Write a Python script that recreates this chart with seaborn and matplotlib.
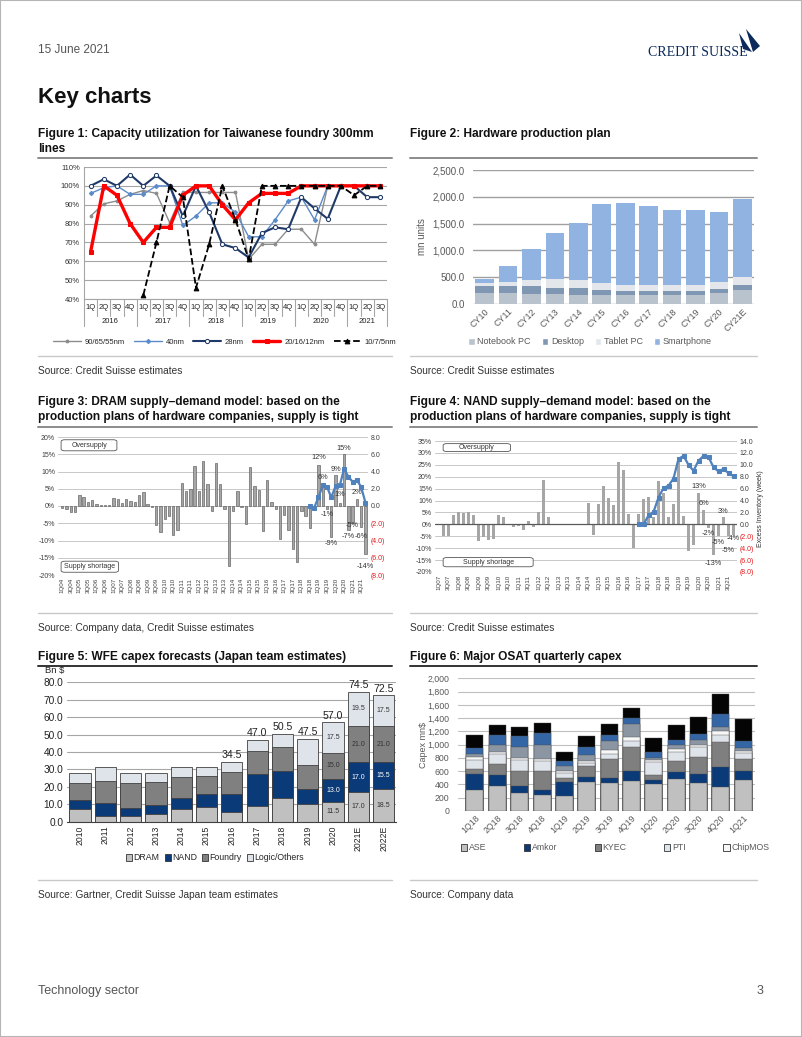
import numpy as np
import matplotlib
matplotlib.use("Agg")
import matplotlib.pyplot as plt
from matplotlib.lines import Line2D
from matplotlib.patches import Patch, FancyBboxPatch, Polygon, Rectangle
from matplotlib.ticker import FuncFormatter, MultipleLocator
import seaborn as sns

# ---------------- data ----------------
# Figure 1: capacity utilization (%)
f1_quarters = ['1Q', '2Q', '3Q', '4Q'] * 5 + ['1Q', '2Q', '3Q']
f1_years = ['2016', '2017', '2018', '2019', '2020', '2021']
f1_names = ['90/65/55nm', '40nm', '28nm', '20/16/12nm', '10/7/5nm']
util_90nm = [84, 90.5, 92, 95.5, 97.5, 96, 80.5, 96.5, 96.5, 96.5, 96.5, 96.5,
             61, 69, 69, 77, 77, 69, 100, 100, 100, 100, 100]
util_40nm = [96, 99, 100, 95.5, 95.5, 100, 100, 79, 84, 91, 91, 86,
             73, 73, 82, 92, 94, 82, 100, 100, 100, 100, 100]
util_28nm = [100, 103.5, 100, 106, 100, 105.5, 100, 84, 100, 86, 69, 67,
             62, 75, 78, 77, 94, 88, 82.5, 100, 100, 94, 94]
util_16nm = [65, 100, 95, 80, 70, 78, 78, 95, 100, 100, 90, 82,
             91, 96, 96, 96, 100, 100, 100, 100, 100, 100, 100]
util_7nm = [np.nan, np.nan, np.nan, np.nan, 42, 70, 100, 94, 46, 69, 100, 82,
            61, 100, 100, 100, 100, 100, 100, 100, 95, 100, 100]

# Figure 2: hardware production plan (mn units)
hw_years = ['CY10', 'CY11', 'CY12', 'CY13', 'CY14', 'CY15', 'CY16', 'CY17',
            'CY18', 'CY19', 'CY20', 'CY21E']
hw_names = ['Notebook PC', 'Desktop', 'Tablet PC', 'Smartphone']
notebook = [200, 200, 195, 180, 175, 165, 160, 160, 160, 160, 200, 270]
desktop = [145, 145, 135, 125, 125, 95, 85, 90, 85, 85, 75, 80]
tablet = [45, 70, 110, 155, 140, 125, 110, 110, 110, 110, 135, 160]
smartphone = [85, 300, 590, 860, 1080, 1475, 1525, 1460, 1395, 1400, 1310, 1440]

# Figure 3: DRAM supply-demand (%), inventory (weeks)
dram_quarters = [f'{q}Q{y:02d}' for y in range(4, 22) for q in range(1, 5)]
dram_balance = [-0.5, -1.0, -1.7, -1.7, 3.2, 2.7, 1.2, 1.7, 0.5, 0.3,
                0.3, 0.3, 2.4, 2.0, 0.8, 2.0, 1.5, 1.2, 3.2, 4.0,
                0.7, -0.3, -5.5, -7.5, -3.8, -2.8, -8.3, -7.0, 6.8, 4.3,
                5.0, 11.5, 4.3, 13.0, 6.5, -1.5, 12.5, 6.3, -0.8, -17.5,
                -1.5, 4.3, -0.3, -5.2, 11.2, 5.8, 4.5, -7.2, 7.6, 1.2,
                -1.0, -9.5, -2.6, -7.0, -12.5, -16.3, -1.5, -2.8, -6.5, -0.3,
                12, 6, -1, -9, 9, 1, 15, -7, -5, 2, -6, -14]
dram_inventory = [np.nan] * 58 + [0.0, -0.2, 1.0, 2.4, 2.2, 1.0, 2.3, 2.4,
                                  4.3, 3.4, 2.8, 3.0, 2.2, 0.4]
dram_label_idx = list(range(60, 72))
dram_label_y = [14.2, 8.2, -2.6, -10.8, 10.5, 3.4, 16.6, -8.8, -5.6, 4.0, -8.8, -17.4]

# Figure 4: NAND supply-demand (%), inventory (weeks)
nand_quarters = [f'{q}Q{y:02d}' for y in range(7, 22) for q in range(1, 5)]
nand_balance = [0, -5, -5, 4.0, 5.0, 4.8, 5.2, 4.0, -7.0, -5.5,
                -6.5, -6.0, 3.8, 3.0, 0, -1.0, -0.8, -2.3, 1.3, -1.0,
                5.0, 18.5, 3.3, 0, 0, 0, 0, 0, 0, 0,
                9.0, -4.5, 8.7, 16.2, 11.2, 8.2, 26.0, 23.0, 4.2, -10.0,
                4.5, 10.5, 11.5, 3.0, 18.0, 13.2, 3.2, 8.5, 28.0, 3.5,
                -11.0, -8.5, 13.0, 6.0, -1.5, -13.0, -5.0, 3.0, -5.0, -4.5]
nand_inventory = [np.nan] * 40 + [0.0, 0.0, 1.5, 2.1, 4.5, 6.1, 6.5, 7.7, 11.0, 11.5,
                                  10.0, 9.0, 10.7, 11.5, 11.3, 9.6, 8.9, 9.3, 8.6, 8.1]
nand_label_idx = list(range(52, 60))
nand_label_y = [15.8, 8.7, -4.0, -16.3, -7.5, 5.6, -11.0, -6.0]

# Figure 5: WFE capex (Bn $)
wfe_years = ['2010', '2011', '2012', '2013', '2014', '2015', '2016', '2017',
             '2018', '2019', '2020', '2021E', '2022E']
wfe_names = ['DRAM', 'NAND', 'Foundry', 'Logic/Others']
wfe_dram = [7.5, 3.5, 3.0, 4.2, 7.3, 8.4, 5.4, 9.0, 13.8, 10.3, 11.5, 17.0, 18.5]
wfe_nand = [5.2, 7.5, 4.8, 5.4, 6.5, 7.3, 10.5, 18.2, 15.1, 8.6, 13.0, 17.0, 15.5]
wfe_foundry = [9.4, 12.3, 14.3, 13.2, 11.8, 10.5, 12.8, 13.3, 13.8, 13.6, 15.0, 21.0, 21.0]
wfe_logic = [5.7, 8.0, 6.1, 5.3, 6.0, 5.2, 5.8, 6.5, 7.8, 15.0, 17.5, 19.5, 17.5]

# Figure 6: OSAT quarterly capex (mn$)
osat_quarters = ['1Q18', '2Q18', '3Q18', '4Q18', '1Q19', '2Q19', '3Q19', '4Q19',
                 '1Q20', '2Q20', '3Q20', '4Q20', '1Q21']
osat_names = ['ASE', 'Amkor', 'KYEC', 'PTI', 'ChipMOS']
osat_ase = [322, 372, 276, 241, 231, 437, 427, 452, 402, 482, 417, 367, 462]
osat_amkor = [231, 171, 101, 81, 211, 81, 65, 151, 65, 101, 146, 291, 141]
osat_kyec = [75, 160, 226, 281, 60, 165, 292, 367, 76, 166, 256, 387, 181]
osat_pti = [140, 150, 160, 145, 75, 40, 80, 90, 190, 140, 140, 105, 96]
osat_chipmos = [40, 30, 40, 40, 25, 25, 50, 60, 35, 50, 30, 50, 30]
osat_other_a = [47, 112, 162, 207, 81, 97, 146, 186, 26, 56, 81, 71, 35]
osat_other_b = [90, 151, 165, 186, 71, 125, 86, 91, 90, 75, 86, 186, 110]
osat_other_c = [205, 144, 135, 144, 141, 155, 159, 153, 221, 220, 254, 313, 335]

# ---------------- page ----------------
sns.set_style('white')
SANS = ['Liberation Sans', 'DejaVu Sans']
plt.rcParams['font.family'] = SANS

W, H = 802, 1037
fig = plt.figure(figsize=(W / 100, H / 100), dpi=100)


def add_ax(l, t, r, b):
    return fig.add_axes([l / W, 1 - b / H, (r - l) / W, (b - t) / H])


def ftext(x, y, s, **kw):
    kw.setdefault('va', 'center')
    fig.text(x / W, 1 - y / H, s, **kw)


def hline(x0, x1, y, color='#999999', lw=1.2):
    fig.add_artist(Line2D([x0 / W, x1 / W], [1 - y / H, 1 - y / H],
                          transform=fig.transFigure, color=color, lw=lw))


def stacked_bars(ax, cats, layers, colors, width, edge, lw):
    tops = np.cumsum(np.array(layers, dtype=float), axis=0)
    for k in range(len(layers) - 1, -1, -1):
        sns.barplot(x=cats, y=tops[k], color=colors[k], width=width, edgecolor=edge,
                    linewidth=lw, saturation=1, errorbar=None, ax=ax)
    return tops


def paren_fmt(v, _):
    return f'{v:.1f}' if v >= 0 else f'({-v:.1f})'


fig.patches.append(Rectangle((0, 0), 1, 1, transform=fig.transFigure, fill=False,
                             ec='#b5b5b5', lw=1.5))

ftext(38, 50, '15 June 2021', fontsize=8.5, color='#555555')
ftext(698, 52, 'CREDIT SUISSE', fontsize=10, color='#0b2a5b', family='Liberation Serif',
      ha='center')
for pts in ([(739, 33), (752, 52), (743, 49)], [(746, 29), (760, 46), (753, 52)]):
    fig.patches.append(Polygon([(x / W, 1 - y / H) for x, y in pts], closed=True,
                               transform=fig.transFigure, fc='#0b2a5b', ec='none'))
ftext(38, 98, 'Key charts', fontsize=16, fontweight='bold', color='#111111')

title_kw = dict(fontsize=8.6, fontweight='bold', color='#111111')
ftext(38, 134, 'Figure 1: Capacity utilization for Taiwanese foundry 300mm', **title_kw)
ftext(38, 149, 'lines', **title_kw)
ftext(410, 134, 'Figure 2: Hardware production plan', **title_kw)
ftext(38, 402, 'Figure 3: DRAM supply\u2013demand model: based on the', **title_kw)
ftext(38, 417, 'production plans of hardware companies, supply is tight', **title_kw)
ftext(410, 402, 'Figure 4: NAND supply\u2013demand model: based on the', **title_kw)
ftext(410, 417, 'production plans of hardware companies, supply is tight', **title_kw)
ftext(38, 657, 'Figure 5: WFE capex forecasts (Japan team estimates)', **title_kw)
ftext(410, 657, 'Figure 6: Major OSAT quarterly capex', **title_kw)

for y, c in ((158, '#8c8c8c'), (427, '#8c8c8c'), (666, '#333333')):
    hline(38, 392, y, color=c, lw=1.4)
    hline(410, 757, y, color=c, lw=1.4)
for y in (356, 613, 880):
    hline(38, 392, y, color='#c8c8c8', lw=1.0)
    hline(410, 757, y, color='#c8c8c8', lw=1.0)

src_kw = dict(fontsize=7.3, color='#333333')
ftext(38, 371, 'Source: Credit Suisse estimates', **src_kw)
ftext(410, 371, 'Source: Credit Suisse estimates', **src_kw)
ftext(38, 628, 'Source: Company data, Credit Suisse estimates', **src_kw)
ftext(410, 628, 'Source: Credit Suisse estimates', **src_kw)
ftext(38, 895, 'Source: Gartner, Credit Suisse Japan team estimates', **src_kw)
ftext(410, 895, 'Source: Company data', **src_kw)
ftext(38, 991, 'Technology sector', fontsize=9, color='#555555')
ftext(763, 991, '3', fontsize=9, color='#555555', ha='right')

# ---------------- Figure 1 ----------------
ax1 = add_ax(84, 167, 387, 299)
x1 = np.arange(len(f1_quarters))
f1_styles = [
    dict(color='#8c8c8c', lw=1.0, marker='o', ms=2.0, mfc='#8c8c8c', mec='#8c8c8c'),
    dict(color='#5b8bc9', lw=1.0, marker='D', ms=2.2, mfc='#5b8bc9', mec='#5b8bc9'),
    dict(color='#1f3a68', lw=1.5, marker='o', ms=3.0, mfc='white', mec='#1f3a68'),
    dict(color='#ff0000', lw=2.4, marker='s', ms=3.4, mfc='#ff0000', mec='#ff0000'),
    dict(color='black', lw=1.3, ls='--', marker='^', ms=3.4, mfc='black', mec='black'),
]
for name, vals, st in zip(f1_names, [util_90nm, util_40nm, util_28nm, util_16nm, util_7nm],
                          f1_styles):
    sns.lineplot(x=x1, y=vals, ax=ax1, label=name, **st)
ax1.set_xlim(-0.5, len(f1_quarters) - 0.5)
ax1.set_ylim(40, 110)
ax1.yaxis.set_major_locator(MultipleLocator(10))
ax1.yaxis.set_major_formatter(FuncFormatter(lambda v, _: f'{v:.0f}%'))
ax1.set_xticks([])
ax1.set_xlabel('')
ax1.set_ylabel('')
ax1.grid(axis='y', color='#a6a6a6', lw=0.8)
ax1.set_axisbelow(True)
for s in ('top', 'right'):
    ax1.spines[s].set_visible(False)
for s in ('left', 'bottom'):
    ax1.spines[s].set_color('#a6a6a6')
    ax1.spines[s].set_linewidth(0.8)
ax1.tick_params(axis='y', length=0, labelsize=5.5, pad=3, labelcolor='#333333')
xt = ax1.get_xaxis_transform()
for i, q in enumerate(f1_quarters):
    ax1.text(i, -0.068, q, transform=xt, ha='center', va='center', fontsize=5.5, color='#222222')
for b in range(len(f1_quarters) + 1):
    low = -0.205 if (b % 4 == 0 or b == len(f1_quarters)) else -0.13
    ax1.plot([b - 0.5, b - 0.5], [0, low], transform=xt, color='#a6a6a6', lw=0.8, clip_on=False)
for k, yr in enumerate(f1_years):
    start, end = 4 * k, min(4 * k + 4, len(f1_quarters))
    ax1.text((start + end - 1) / 2, -0.172, yr, transform=xt, ha='center', va='center',
             fontsize=5.5, color='#222222')
h1, l1 = ax1.get_legend_handles_labels()
ax1.legend(h1, l1, loc='center', bbox_to_anchor=(225 / W, 1 - 342 / H),
           bbox_transform=fig.transFigure, ncol=5, frameon=False, fontsize=5.5,
           handlelength=3.6, columnspacing=1.2, handletextpad=0.5)

# ---------------- Figure 2 ----------------
ax2 = add_ax(473, 170, 754, 304)
hw_colors = ['#b9c3ce', '#8097b3', '#e3e7ec', '#91b3e2']
stacked_bars(ax2, hw_years, [notebook, desktop, tablet, smartphone], hw_colors,
             width=0.8, edge='none', lw=0)
ax2.set_ylim(0, 2500)
ax2.yaxis.set_major_locator(MultipleLocator(500))
ax2.yaxis.set_major_formatter(FuncFormatter(lambda v, _: f'{v:,.1f}'))
ax2.grid(axis='y', color='#a0a0a0', lw=1.0)
ax2.set_axisbelow(True)
sns.despine(ax=ax2, left=True, bottom=True)
ax2.tick_params(axis='y', length=0, labelsize=7, pad=6, labelcolor='#595959')
ax2.tick_params(axis='x', length=0, labelsize=6.5, pad=2, labelcolor='#595959')
plt.setp(ax2.get_xticklabels(), rotation=45, ha='right', rotation_mode='anchor')
ax2.set_xlabel('')
ax2.set_ylabel('mn units', fontsize=7, color='#595959', labelpad=4)
ax2.legend([Patch(fc=c) for c in hw_colors], hw_names, loc='center',
           bbox_to_anchor=(590 / W, 1 - 342 / H), bbox_transform=fig.transFigure,
           ncol=4, frameon=False, fontsize=6.5, handlelength=0.7, handleheight=0.7,
           handletextpad=0.3, columnspacing=1.2, labelcolor='#595959')


# ---------------- Figure 3 & 4 ----------------
def balance_chart(ax, quarters, balance, inventory, ylim_left, ylim_right, xlim, bar_kw,
                  label_idx, label_y, boxes, zero_line):
    sns.barplot(x=quarters, y=balance, saturation=1, errorbar=None, ax=ax, **bar_kw)
    ax.set_ylim(*ylim_left)
    ax.yaxis.set_major_locator(MultipleLocator(5))
    ax.yaxis.set_major_formatter(FuncFormatter(lambda v, _: f'{v:.0f}%'))
    ax.grid(axis='y', color='#c8c8c8', lw=0.7)
    ax.set_axisbelow(True)
    if zero_line:
        ax.axhline(0, color='#595959', lw=0.9, zorder=1.5)
    ax.set_xticks(range(0, len(quarters), 2))
    ax.set_xticklabels(quarters[::2], rotation=90, fontsize=4.5, color='#404040')
    ax.tick_params(axis='x', length=0, pad=2)
    ax.tick_params(axis='y', length=0, labelsize=5, pad=2, labelcolor='#404040')
    ax.set_xlabel('')
    ax.set_ylabel('')
    sns.despine(ax=ax, left=True, bottom=True)
    for i, y in zip(label_idx, label_y):
        ax.text(i, y, f'{balance[i]:.0f}%', ha='center', va='center', fontsize=5.3,
                color='#333333', zorder=5)
    for (bx0, by0, bx1, by1, txt) in boxes:
        ax.add_patch(FancyBboxPatch((bx0, by0), bx1 - bx0, by1 - by0,
                                    boxstyle='round,pad=0,rounding_size=0.012',
                                    transform=ax.transAxes, fc='white', ec='#555555',
                                    lw=0.6, zorder=4))
        ax.text((bx0 + bx1) / 2, (by0 + by1) / 2, txt, transform=ax.transAxes,
                ha='center', va='center', fontsize=5, color='#333333', zorder=5)
    axr = ax.twinx()
    sns.lineplot(x=np.arange(len(quarters)), y=inventory, ax=axr, color='#4f81bd', lw=1.6,
                 marker='s', ms=2.4, mfc='#4f81bd', mec='#4f81bd')
    axr.set_ylim(*ylim_right)
    axr.set_yticks(np.arange(ylim_right[0], ylim_right[1] + 1, 2))
    axr.yaxis.set_major_formatter(FuncFormatter(paren_fmt))
    axr.tick_params(axis='y', length=0, labelsize=5, pad=2)
    for t, v in zip(axr.get_yticklabels(), axr.get_yticks()):
        t.set_color('#e31a1c' if v < 0 else '#404040')
    axr.set_ylabel('')
    sns.despine(ax=axr, left=True, bottom=True, right=True)
    ax.set_xlim(*xlim)
    axr.set_xlim(*xlim)
    return axr


ax3 = add_ax(58, 437, 368, 575)
balance_chart(ax3, dram_quarters, dram_balance, dram_inventory, (-20, 20), (-8, 8), (-1.0, 71.6),
              dict(color='#a6a6a6', edgecolor='#4d4d4d', linewidth=0.4, width=0.55),
              dram_label_idx, dram_label_y,
              [(0.01, 0.90, 0.19, 0.98, 'Oversupply'), (0.01, 0.02, 0.195, 0.10, 'Supply shortage')],
              zero_line=False)

ax4 = add_ax(435, 441, 737, 572)
ax4r = balance_chart(ax4, nand_quarters, nand_balance, nand_inventory, (-20, 35), (-8, 14),
                     (-0.7, 59.7), dict(color='#a6a6a6', edgecolor='none', width=0.45),
                     nand_label_idx, nand_label_y,
                     [(0.027, 0.92, 0.25, 0.98, 'Oversupply'),
                      (0.027, 0.04, 0.325, 0.11, 'Supply shortage')],
                     zero_line=True)
ftext(761, 509, 'Excess Inventory (week)', fontsize=5, rotation=90, ha='center', color='#333333')

# ---------------- Figure 5 ----------------
ax5 = add_ax(67.4, 682.3, 396.3, 821.7)
wfe_colors = ['#c0c0c0', '#0b3a78', '#808080', '#dfe4ea']
wfe_layers = [wfe_dram, wfe_nand, wfe_foundry, wfe_logic]
tops5 = stacked_bars(ax5, wfe_years, wfe_layers, wfe_colors, width=0.84, edge='#404040', lw=0.6)
ax5.set_ylim(0, 80)
ax5.yaxis.set_major_locator(MultipleLocator(10))
ax5.yaxis.set_major_formatter(FuncFormatter(lambda v, _: f'{v:.1f}'))
ax5.grid(axis='y', color='#a6a6a6', lw=0.8)
ax5.set_axisbelow(True)
sns.despine(ax=ax5, left=True)
ax5.spines['bottom'].set_color('#404040')
ax5.tick_params(axis='y', length=0, labelsize=7.3, pad=3, labelcolor='#222222')
ax5.tick_params(axis='x', length=0, labelsize=6.2, pad=3, labelcolor='#222222')
plt.setp(ax5.get_xticklabels(), rotation=90)
ax5.set_xlabel('')
ax5.set_ylabel('')
for i in range(6, len(wfe_years)):
    ax5.text(i, tops5[-1][i] + 1.0, f'{tops5[-1][i]:.1f}', ha='center', va='bottom',
             fontsize=7.6, color='#222222')
for i in range(10, len(wfe_years)):
    for k, layer in enumerate(wfe_layers):
        base = tops5[k][i] - layer[i]
        ax5.text(i, base + layer[i] / 2, f'{layer[i]:.1f}', ha='center', va='center',
                 fontsize=5, color='white' if k == 1 else '#333333')
ftext(45, 671, 'Bn $', fontsize=6.8, color='#222222')
ax5.legend([Patch(fc=c, ec='#333333', lw=0.6) for c in wfe_colors], wfe_names, loc='center',
           bbox_to_anchor=(215 / W, 1 - 858 / H), bbox_transform=fig.transFigure,
           ncol=4, frameon=False, fontsize=6.3, handlelength=0.7, handleheight=0.7,
           handletextpad=0.15, columnspacing=0.6)

# ---------------- Figure 6 ----------------
ax6 = add_ax(458, 678.3, 754.5, 811)
osat_colors = ['#c0c0c0', '#0b3a78', '#7f7f7f', '#dfe4ea', '#f7f7f7', '#8c96a3',
               '#3465a4', '#050505']
stacked_bars(ax6, osat_quarters,
             [osat_ase, osat_amkor, osat_kyec, osat_pti, osat_chipmos, osat_other_a,
              osat_other_b, osat_other_c],
             osat_colors, width=0.76, edge='#4d4d4d', lw=0.3)
ax6.set_xlim(-0.76, 12.5)
ax6.set_ylim(0, 2000)
ax6.yaxis.set_major_locator(MultipleLocator(200))
ax6.yaxis.set_major_formatter(FuncFormatter(lambda v, _: f'{v:,.0f}'))
ax6.grid(axis='y', color='#bfbfbf', lw=0.8)
ax6.set_axisbelow(True)
sns.despine(ax=ax6, left=True, bottom=True)
ax6.tick_params(axis='y', length=0, labelsize=6.3, pad=6, labelcolor='#595959')
ax6.tick_params(axis='x', length=0, labelsize=6.3, pad=2, labelcolor='#595959')
plt.setp(ax6.get_xticklabels(), rotation=45, ha='right', rotation_mode='anchor')
ax6.set_xlabel('')
ax6.set_ylabel('Capex mn$', fontsize=6.5, color='#595959', labelpad=0)
ax6.legend([Patch(fc=c, ec='#333333', lw=0.6) for c in osat_colors[:5]], osat_names,
           loc='center', bbox_to_anchor=(615 / W, 1 - 848 / H), bbox_transform=fig.transFigure,
           ncol=5, frameon=False, fontsize=6.3, handlelength=0.7, handleheight=0.7,
           handletextpad=0.2, columnspacing=4.3, labelcolor='#595959')

fig.savefig('out.png', dpi=100)
